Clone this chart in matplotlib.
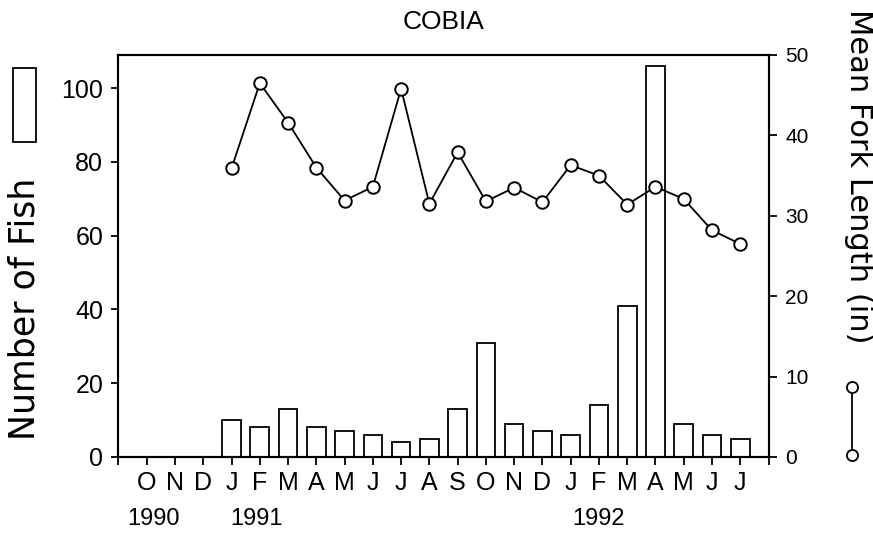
import matplotlib
matplotlib.use("Agg")
import matplotlib.pyplot as plt
from matplotlib.patches import Rectangle
from matplotlib.lines import Line2D
from matplotlib.transforms import blended_transform_factory

# Monthly samples, Oct 1990 - Jul 1992
months = ["O", "N", "D", "J", "F", "M", "A", "M", "J", "J", "A",
          "S", "O", "N", "D", "J", "F", "M", "A", "M", "J", "J"]
years = ["1990", "1991", "1992"]
year_pos = [0.25, 3.9, 16]

# Months with catches (index into months)
sample_idx = list(range(3, 22))
fish_counts = [10, 8, 13, 8, 7, 6, 4, 5, 13, 31, 9, 7, 6, 14, 41, 106, 9, 6, 5]
fork_length = [35.9, 46.5, 41.6, 36.0, 31.9, 33.6, 45.8, 31.5, 37.9, 31.8,
               33.5, 31.7, 36.3, 35.0, 31.4, 33.6, 32.1, 28.2, 26.5]

plt.rcParams['font.family'] = ['Liberation Sans', 'DejaVu Sans']

W, H = 873, 539
fig = plt.figure(figsize=(W / 100, H / 100), dpi=100)
ax = fig.add_axes([118.5 / W, (H - 457) / H, 650 / W, 402 / H])

ax.bar(sample_idx, fish_counts, width=0.66, color="white",
       edgecolor="black", linewidth=1.3, zorder=2)
ax.set_xlim(-1, 22)
ax.set_ylim(0, 109)
ax.set_yticks(range(0, 101, 20))
ax.set_xticks(range(-1, 23))
ax.set_xticklabels([""] + months + [""])
ax.tick_params(axis="y", direction="out", length=5, width=1.3, pad=6,
               labelsize=18)
ax.tick_params(axis="x", direction="out", length=6, width=1.3, pad=4,
               labelsize=18)

ax2 = ax.twinx()
ax2.plot(sample_idx, fork_length, "-o", color="black", lw=1.3,
         markerfacecolor="white", markeredgecolor="black",
         markersize=9, markeredgewidth=1.4, zorder=3)
ax2.set_ylim(0, 50)
ax2.set_yticks(range(0, 51, 10))
ax2.tick_params(axis="y", direction="out", length=6, width=1.3, pad=6,
                labelsize=15)

for a in (ax, ax2):
    for s in a.spines.values():
        s.set_linewidth(1.5)

# Year labels under the month letters
trans = blended_transform_factory(ax.transData, fig.transFigure)
for x, y in zip(year_pos, years):
    ax.text(x, 20 / H, y, transform=trans, ha="center", va="center",
            fontsize=17)

# Title
fig.text(444 / W, 1 - 22 / H, "COBIA", ha="center", va="center",
         fontsize=19)

# Left axis label with bar key
fig.text(25 / W, 1 - 309 / H, "Number of Fish", rotation=90,
         ha="center", va="center", fontsize=25, family="DejaVu Sans")
fig.add_artist(Rectangle((13 / W, 1 - 142 / H), 23 / W, 74 / H,
                         transform=fig.transFigure, fill=False,
                         edgecolor="black", lw=1.3))

# Right axis label with line key
fig.text(859 / W, 1 - 176 / H, "Mean Fork Length (in)", rotation=-90,
         ha="center", va="center", fontsize=22, family="DejaVu Sans")
fig.add_artist(Line2D([852 / W, 852 / W], [1 - 387 / H, 1 - 455 / H],
                      transform=fig.transFigure, color="black", lw=1.3,
                      marker="o", markersize=8, markerfacecolor="white",
                      markeredgecolor="black", markeredgewidth=1.3))

fig.savefig("out.png", dpi=100)
